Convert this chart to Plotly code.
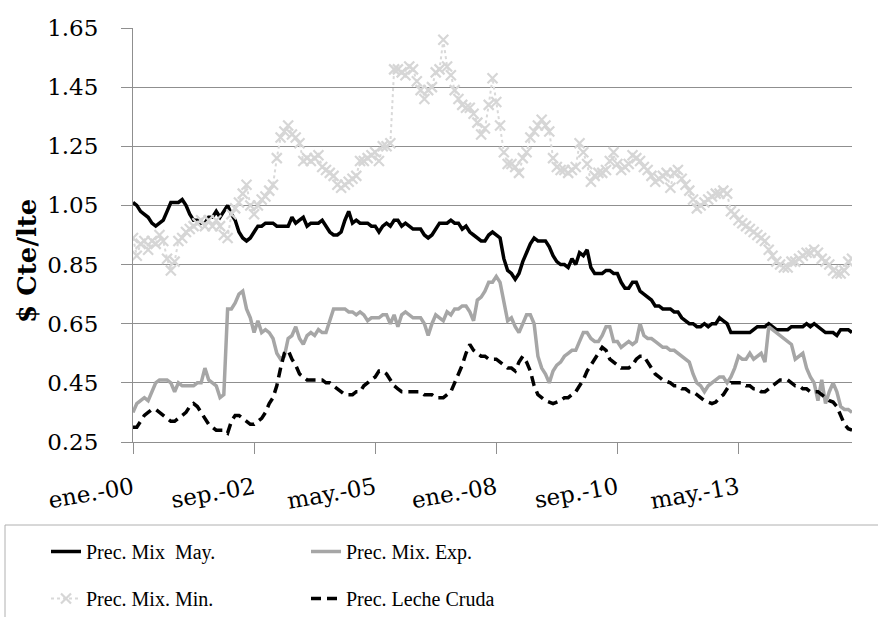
import pandas as pd
import plotly.graph_objects as go

# Monthly series, Jan 2000 - Nov 2015 ($ constant per litre)
months = [d.strftime("%Y-%m") for d in pd.date_range("2000-01-01", "2015-11-01", freq="MS")]

prec_mix_may = [
    1.06, 1.05, 1.03, 1.02, 1.01, 0.99, 0.98, 0.99, 1.00, 1.03, 1.06, 1.06,
    1.06, 1.07, 1.05, 1.02, 1.00, 1.00, 0.99, 0.99, 1.01, 1.01, 1.03, 1.01,
    1.03, 1.05, 1.02, 1.00, 0.96, 0.94, 0.93, 0.94, 0.96, 0.98, 0.98, 0.99,
    0.99, 0.99, 0.98, 0.98, 0.98, 0.98, 1.01, 0.99, 1.00, 1.01, 0.98, 0.99,
    0.99, 0.99, 1.00, 0.98, 0.96, 0.95, 0.95, 0.96, 1.00, 1.03, 0.99, 1.00,
    0.99, 0.99, 0.99, 0.98, 0.98, 0.96, 0.98, 0.99, 0.98, 1.00, 1.00, 0.98,
    0.99, 0.98, 0.97, 0.97, 0.97, 0.95, 0.94, 0.95, 0.97, 0.99, 0.99, 0.99,
    1.00, 0.99, 0.99, 0.97, 0.98, 0.96, 0.95, 0.94, 0.93, 0.93, 0.95, 0.96,
    0.95, 0.94, 0.87, 0.83, 0.82, 0.80, 0.82, 0.86, 0.89, 0.92, 0.94, 0.93,
    0.93, 0.93, 0.91, 0.88, 0.86, 0.85, 0.85, 0.84, 0.87, 0.85, 0.89, 0.88,
    0.90, 0.84, 0.82, 0.82, 0.82, 0.83, 0.83, 0.82, 0.82, 0.79, 0.77, 0.77,
    0.79, 0.79, 0.76, 0.75, 0.74, 0.73, 0.71, 0.71, 0.70, 0.70, 0.70, 0.69,
    0.69, 0.67, 0.66, 0.65, 0.65, 0.64, 0.64, 0.65, 0.64, 0.65, 0.65, 0.67,
    0.66, 0.65, 0.62, 0.62, 0.62, 0.62, 0.62, 0.62, 0.63, 0.64, 0.64, 0.64,
    0.65, 0.64, 0.63, 0.63, 0.63, 0.63, 0.64, 0.64, 0.64, 0.64, 0.65, 0.64,
    0.65, 0.64, 0.63, 0.62, 0.62, 0.62, 0.61, 0.63, 0.63, 0.63, 0.62,
]

prec_mix_exp = [
    0.35, 0.38, 0.39, 0.40, 0.39, 0.42, 0.45, 0.46, 0.46, 0.46, 0.45, 0.42,
    0.45, 0.44, 0.44, 0.44, 0.44, 0.45, 0.45, 0.50, 0.46, 0.45, 0.44, 0.40,
    0.41, 0.70, 0.70, 0.72, 0.75, 0.76, 0.70, 0.67, 0.62, 0.66, 0.62, 0.63,
    0.62, 0.60, 0.55, 0.53, 0.54, 0.60, 0.61, 0.64, 0.60, 0.58, 0.61, 0.62,
    0.61, 0.63, 0.62, 0.62, 0.66, 0.70, 0.70, 0.70, 0.70, 0.69, 0.69, 0.68,
    0.69, 0.68, 0.66, 0.67, 0.67, 0.67, 0.68, 0.68, 0.65, 0.68, 0.64, 0.68,
    0.69, 0.68, 0.67, 0.67, 0.67, 0.65, 0.61, 0.65, 0.68, 0.67, 0.66, 0.69,
    0.68, 0.70, 0.70, 0.71, 0.71, 0.69, 0.66, 0.73, 0.74, 0.76, 0.79, 0.79,
    0.81, 0.79, 0.73, 0.66, 0.67, 0.64, 0.62, 0.65, 0.68, 0.68, 0.65, 0.54,
    0.50, 0.48, 0.45, 0.49, 0.51, 0.52, 0.54, 0.55, 0.56, 0.56, 0.59, 0.62,
    0.62, 0.60, 0.59, 0.59, 0.61, 0.64, 0.64, 0.59, 0.59, 0.57, 0.58, 0.59,
    0.58, 0.59, 0.65, 0.61, 0.60, 0.60, 0.59, 0.58, 0.57, 0.57, 0.56, 0.56,
    0.55, 0.54, 0.53, 0.52, 0.48, 0.45, 0.44, 0.42, 0.44, 0.45, 0.46, 0.47,
    0.47, 0.45, 0.47, 0.50, 0.54, 0.53, 0.53, 0.55, 0.53, 0.54, 0.55, 0.52,
    0.64, 0.63, 0.62, 0.61, 0.60, 0.59, 0.58, 0.53, 0.54, 0.55, 0.50, 0.47,
    0.45, 0.39, 0.46, 0.38, 0.42, 0.45, 0.42, 0.37, 0.36, 0.36, 0.35,
]

prec_mix_min = [
    0.94, 0.88, 0.92, 0.93, 0.90, 0.93, 0.92, 0.95, 0.93, 0.87, 0.83, 0.86,
    0.93, 0.94, 0.96, 0.97, 0.98, 0.99, 1.00, 0.98, 1.00, 0.98, 1.00, 0.98,
    0.95, 0.94, 1.02, 1.04, 1.06, 1.09, 1.12, 1.05, 1.02, 1.05, 1.07, 1.08,
    1.10, 1.12, 1.21, 1.28, 1.30, 1.32, 1.29, 1.28, 1.26, 1.20, 1.21, 1.20,
    1.21, 1.22, 1.18, 1.17, 1.16, 1.15, 1.12, 1.11, 1.12, 1.13, 1.14, 1.15,
    1.20, 1.20, 1.21, 1.22, 1.23, 1.20, 1.25, 1.25, 1.26, 1.51, 1.51, 1.50,
    1.49, 1.52, 1.51, 1.47, 1.44, 1.41, 1.44, 1.45, 1.50, 1.51, 1.61, 1.52,
    1.49, 1.44, 1.41, 1.39, 1.38, 1.38, 1.36, 1.33, 1.29, 1.31, 1.39, 1.48,
    1.40, 1.32, 1.23, 1.19, 1.19, 1.18, 1.16, 1.21, 1.23, 1.28, 1.30, 1.32,
    1.34, 1.32, 1.30, 1.21, 1.18, 1.17, 1.17, 1.16, 1.17, 1.18, 1.26, 1.23,
    1.19, 1.13, 1.15, 1.16, 1.16, 1.17, 1.20, 1.23, 1.19, 1.17, 1.18, 1.19,
    1.22, 1.21, 1.20, 1.18, 1.17, 1.15, 1.13, 1.14, 1.15, 1.16, 1.11, 1.16,
    1.17, 1.14, 1.12, 1.10, 1.07, 1.04, 1.05, 1.06, 1.07, 1.08, 1.09, 1.09,
    1.10, 1.09, 1.03, 1.02, 1.00, 0.99, 0.98, 0.97, 0.96, 0.95, 0.94, 0.93,
    0.90, 0.88, 0.86, 0.85, 0.84, 0.84, 0.86, 0.86, 0.87, 0.88, 0.89, 0.89,
    0.90, 0.89, 0.87, 0.86, 0.85, 0.83, 0.82, 0.82, 0.83, 0.86, 0.87,
]

prec_leche_cruda = [
    0.30, 0.30, 0.32, 0.34, 0.35, 0.36, 0.36, 0.35, 0.34, 0.33, 0.32, 0.32,
    0.33, 0.34, 0.35, 0.37, 0.38, 0.37, 0.35, 0.33, 0.31, 0.30, 0.29, 0.29,
    0.29, 0.28, 0.32, 0.34, 0.34, 0.33, 0.32, 0.31, 0.31, 0.32, 0.33, 0.35,
    0.38, 0.40, 0.44, 0.50, 0.55, 0.56, 0.53, 0.51, 0.48, 0.47, 0.46, 0.46,
    0.46, 0.46, 0.46, 0.45, 0.45, 0.44, 0.43, 0.42, 0.41, 0.41, 0.41, 0.42,
    0.42, 0.44, 0.45, 0.46, 0.47, 0.49, 0.49, 0.48, 0.46, 0.44, 0.43, 0.42,
    0.42, 0.42, 0.42, 0.42, 0.42, 0.41, 0.41, 0.41, 0.40, 0.40, 0.40, 0.41,
    0.42, 0.45, 0.48, 0.51, 0.55, 0.58, 0.56, 0.55, 0.54, 0.54, 0.53, 0.53,
    0.53, 0.52, 0.51, 0.50, 0.50, 0.49, 0.52, 0.54, 0.52, 0.49, 0.44, 0.41,
    0.40, 0.39, 0.385, 0.38, 0.385, 0.39, 0.40, 0.40, 0.41, 0.42, 0.44, 0.46,
    0.49, 0.51, 0.53, 0.55, 0.57, 0.56, 0.53, 0.52, 0.51, 0.50, 0.50, 0.50,
    0.51, 0.53, 0.54, 0.54, 0.52, 0.50, 0.48, 0.47, 0.46, 0.455, 0.45, 0.44,
    0.44, 0.43, 0.43, 0.42, 0.42, 0.41, 0.40, 0.39, 0.385, 0.38, 0.385, 0.40,
    0.41, 0.43, 0.45, 0.45, 0.45, 0.45, 0.44, 0.44, 0.43, 0.43, 0.42, 0.42,
    0.43, 0.44, 0.45, 0.46, 0.46, 0.46, 0.45, 0.44, 0.44, 0.43, 0.43, 0.42,
    0.42, 0.42, 0.41, 0.40, 0.39, 0.385, 0.37, 0.34, 0.31, 0.295, 0.29,
]

tick_months = ["2000-01", "2002-09", "2005-05", "2008-01", "2010-09", "2013-05"]
tick_labels = ["ene.-00", "sep.-02", "may.-05", "ene.-08", "sep.-10", "may.-13"]

AXIS_FONT = "DejaVu Serif"
LEGEND_FONT = "Liberation Serif"
GRID = "#8f8f8f"
W, H = 878, 617

fig = go.Figure()
fig.add_trace(go.Scatter(
    x=months, y=prec_mix_may, name="Prec. Mix  May.", mode="lines",
    line=dict(color="#000000", width=3.5), legend="legend"))
fig.add_trace(go.Scatter(
    x=months, y=prec_mix_exp, name="Prec. Mix. Exp.", mode="lines",
    line=dict(color="#a6a6a6", width=3.5), legend="legend2"))
fig.add_trace(go.Scatter(
    x=months, y=prec_mix_min, name="Prec. Mix. Min.", mode="lines+markers",
    line=dict(color="#d9d9d9", width=2, dash="dot"),
    marker=dict(symbol="x-thin", size=10, line=dict(color="#d6d6d6", width=2.2)),
    legend="legend3"))
fig.add_trace(go.Scatter(
    x=months, y=prec_leche_cruda, name="Prec. Leche Cruda", mode="lines",
    line=dict(color="#000000", width=3.5, dash="10px,6px"), legend="legend4"))


def legend_at(left_px, top_px):
    # one legend entry placed at a fixed pixel position in the page
    return dict(
        orientation="h", xref="container", yref="container",
        x=left_px / W, y=1 - top_px / H, xanchor="left", yanchor="top",
        itemwidth=30, bgcolor="rgba(0,0,0,0)", borderwidth=0,
        font=dict(family=LEGEND_FONT, size=20, color="#000000"),
    )


fig.update_layout(
    width=W, height=H,
    margin=dict(l=133, r=26, t=28, b=175, autoexpand=False),
    paper_bgcolor="white", plot_bgcolor="white",
    showlegend=True,
    legend=legend_at(46, 532),
    legend2=legend_at(306, 532),
    legend3=legend_at(46, 579),
    legend4=legend_at(306, 579),
    xaxis=dict(
        type="category", range=[0, len(months) - 1], automargin=False,
        tickmode="array", tickvals=tick_months, ticktext=tick_labels,
        tickangle=-10, ticks="outside", ticklen=11, tickcolor=GRID, tickwidth=1,
        showline=True, linecolor=GRID, linewidth=1, showgrid=False,
        ticklabelstandoff=12,
        tickfont=dict(family=AXIS_FONT, size=23, color="#000000"),
    ),
    yaxis=dict(
        range=[0.25, 1.65], tick0=0.25, dtick=0.2, tickformat=".2f", automargin=False,
        ticks="outside", ticklen=11, tickcolor=GRID, tickwidth=1,
        showline=True, linecolor=GRID, linewidth=1,
        showgrid=True, gridcolor=GRID, gridwidth=1, zeroline=False,
        ticklabelstandoff=18,
        tickfont=dict(family=AXIS_FONT, size=23, color="#000000"),
    ),
    annotations=[dict(
        text="<b>$ Cte/lte</b>", textangle=-90, showarrow=False,
        xref="paper", yref="paper", x=(27 - 133) / 719, y=(442 - 261) / 414,
        xanchor="center", yanchor="middle",
        font=dict(family=AXIS_FONT, size=26, color="#000000"),
    )],
    shapes=[dict(
        type="rect", xref="paper", yref="paper",
        x0=(5 - 133) / 719, x1=(890 - 133) / 719,
        y0=(442 - 525) / 414, y1=(442 - 640) / 414,
        line=dict(color="#b0b0b0", width=1), fillcolor="rgba(0,0,0,0)", layer="below",
    )],
)

fig.write_html("out.html")
